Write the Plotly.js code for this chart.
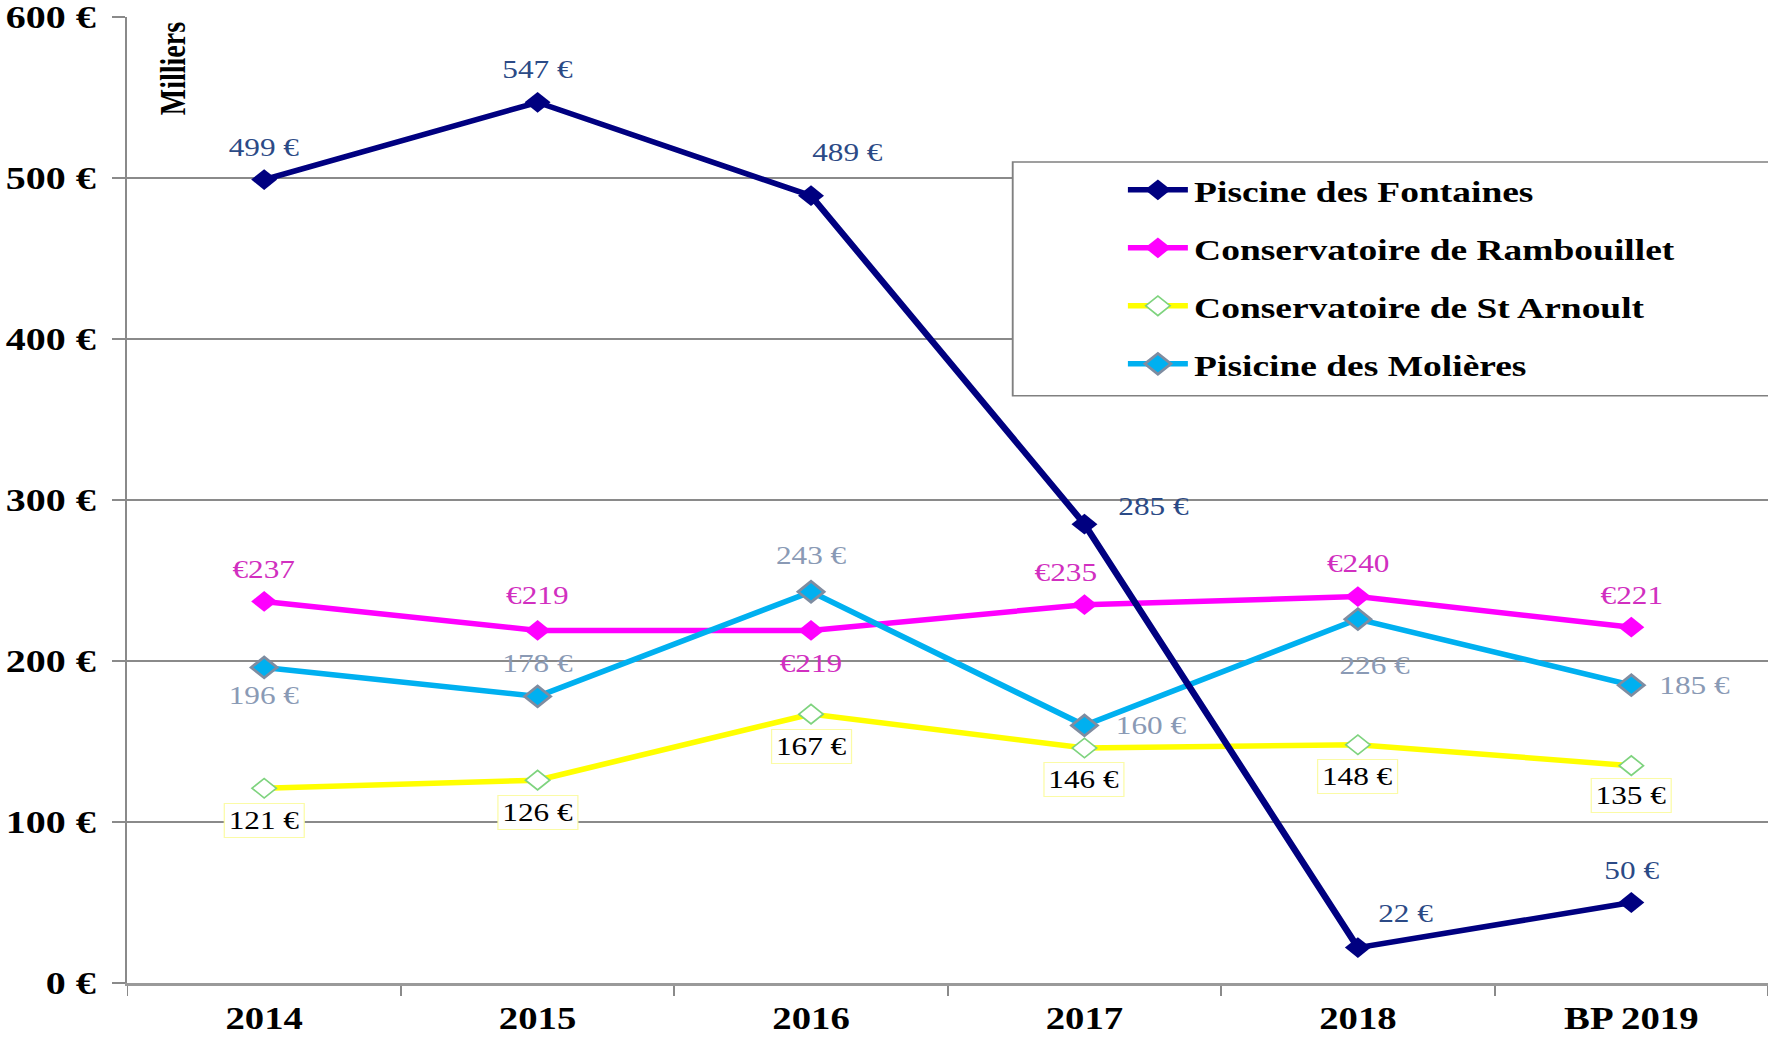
<!DOCTYPE html>
<html>
<head>
<meta charset="utf-8">
<script src="https://cdn.plot.ly/plotly-3.0.1.min.js"></script>
<style>
  html, body { margin: 0; padding: 0; background: #fff; }
  #wrap { width: 1768px; height: 1037px; overflow: hidden; }
  #chart { width: 1415px; height: 1037px; transform: scaleX(1.2495); transform-origin: 0 0; }
</style>
</head>
<body>
<div id="wrap"><div id="chart"></div></div>
<script>
// ---- data ----
const categories = ['2014', '2015', '2016', '2017', '2018', 'BP 2019'];
const fontaines   = [499, 547, 489, 285, 22, 50];
const rambouillet = [237, 219, 219, 235, 240, 221];
const stArnoult   = [121, 126, 167, 146, 148, 135];
const molieres    = [196, 178, 243, 160, 226, 185];
const seriesNames = ['Piscine des Fontaines', 'Conservatoire de Rambouillet', 'Conservatoire de St Arnoult', 'Pisicine des Molières'];
const yTicks = [0, 100, 200, 300, 400, 500, 600];
const yAxisUnit = 'Milliers';

// ---- label placement (style, in px) ----
const offFontaines = { dx: [0, 0, 29, 56, 38, 0], dy: [32, 33, 43, 18, 34, 32] };
const offRamb      = { dx: [0, 0, 0, -15, 0, 0], dy: [32, 35, -33, 32, 33, 32] };
const offArnoult   = { dx: [0, 0, 0, 0, 0, 0], dy: [-32, -32, -32, -32, -32, -30] };
const offMolieres  = { dx: [0, 0, 0, 54, 14, 51], dy: [-28, 33, 36, 0, -46, 0] };

const SERIF = '"Liberation Serif", "Times New Roman", serif';

function labels(values, off, fmt, color, extra) {
  // x is the category index on the category axis
  return values.map((v, i) => Object.assign({
    x: i, y: v, xref: 'x', yref: 'y',
    xanchor: 'center', yanchor: 'middle',
    text: fmt(v), showarrow: false,
    xshift: off.dx[i], yshift: off.dy[i],
    font: { family: SERIF, size: 25, color: color }
  }, extra || {}));
}

const euroAfter = v => v + ' €';
const euroBefore = v => '€' + v;

const traces = [
  {
    x: categories, y: stArnoult, name: seriesNames[2], legendrank: 3,
    type: 'scatter', mode: 'lines+markers',
    line: { color: '#FFFF00', width: 5.5 },
    marker: { symbol: 'diamond', size: 15, color: '#FFFFFF', line: { color: '#7ED37E', width: 1.5 } }
  },
  {
    x: categories, y: rambouillet, name: seriesNames[1], legendrank: 2,
    type: 'scatter', mode: 'lines+markers',
    line: { color: '#FF00FF', width: 5.5 },
    marker: { symbol: 'diamond', size: 16, color: '#FF00FF' }
  },
  {
    x: categories, y: molieres, name: seriesNames[3], legendrank: 4,
    type: 'scatter', mode: 'lines+markers',
    line: { color: '#00B0F0', width: 5.5 },
    marker: { symbol: 'diamond', size: 16, color: '#00B0F0', line: { color: '#7F8CA0', width: 2.5 } }
  },
  {
    x: categories, y: fontaines, name: seriesNames[0], legendrank: 1,
    type: 'scatter', mode: 'lines+markers',
    line: { color: '#000080', width: 5.5 },
    marker: { symbol: 'diamond', size: 16, color: '#000080' }
  }
];

const annotations = [].concat(
  labels(fontaines, offFontaines, euroAfter, '#2B4A86'),
  labels(rambouillet, offRamb, euroBefore, '#D12FC0'),
  labels(molieres, offMolieres, euroAfter, '#8A9AB5'),
  labels(stArnoult, offArnoult, euroAfter, '#000000', {
    bgcolor: '#FFFFFF', bordercolor: 'rgba(250,250,150,0.85)', borderwidth: 1, borderpad: 3
  }),
  [{
    xref: 'paper', yref: 'paper', x: 0.0274, y: 0.947, showarrow: false,
    xanchor: 'center', yanchor: 'middle',
    text: yAxisUnit, textangle: -90,
    font: { family: SERIF, size: 28, color: '#000000', weight: 'bold' }
  }]
);

const layout = {
  width: 1415, height: 1037,
  margin: { l: 102, r: 0, t: 17, b: 54, pad: 0 },
  paper_bgcolor: '#FFFFFF', plot_bgcolor: '#FFFFFF',
  showlegend: true,
  legend: {
    x: 0.606, y: 0.848, xanchor: 'left', yanchor: 'top',
    bgcolor: 'rgba(0,0,0,0)', borderwidth: 0,
    itemwidth: 48, tracegroupgap: 16,
    font: { family: SERIF, size: 30, color: '#000000', weight: 'bold' }
  },
  xaxis: {
    type: 'category', range: [-0.5, 5.5],
    showgrid: false, zeroline: false,
    showline: true, linecolor: '#9A9A9A', linewidth: 3,
    ticks: 'outside', tickson: 'boundaries', ticklen: 10, tickcolor: '#8A8A8A', tickwidth: 1.5,
    ticklabelstandoff: 6,
    tickfont: { family: SERIF, size: 31, color: '#000000', weight: 'bold' }
  },
  yaxis: {
    range: [0, 600], tickvals: yTicks, ticktext: yTicks.map(v => v + ' €'),
    showgrid: true, gridcolor: '#8A8A8A', gridwidth: 1.5,
    zeroline: false,
    showline: true, linecolor: '#8A8A8A', linewidth: 2,
    ticks: 'outside', ticklen: 10, tickcolor: '#8A8A8A', tickwidth: 1.5,
    ticklabelstandoff: 7, ticklabeloverflow: 'allow',
    tickfont: { family: SERIF, size: 32, color: '#000000', weight: 'bold' }
  },
  shapes: [{
    type: 'rect', xref: 'paper', yref: 'paper', layer: 'above',
    x0: 0.5396, x1: 1.02, y0: 0.608, y1: 0.850,
    fillcolor: '#FFFFFF', line: { color: '#808080', width: 1.5 }
  }],
  annotations: annotations
};

traces.forEach(t => { t.legendgroup = t.name; t.cliponaxis = false; });

Plotly.newPlot('chart', traces, layout, { displayModeBar: false, staticPlot: true });
</script>
</body>
</html>
